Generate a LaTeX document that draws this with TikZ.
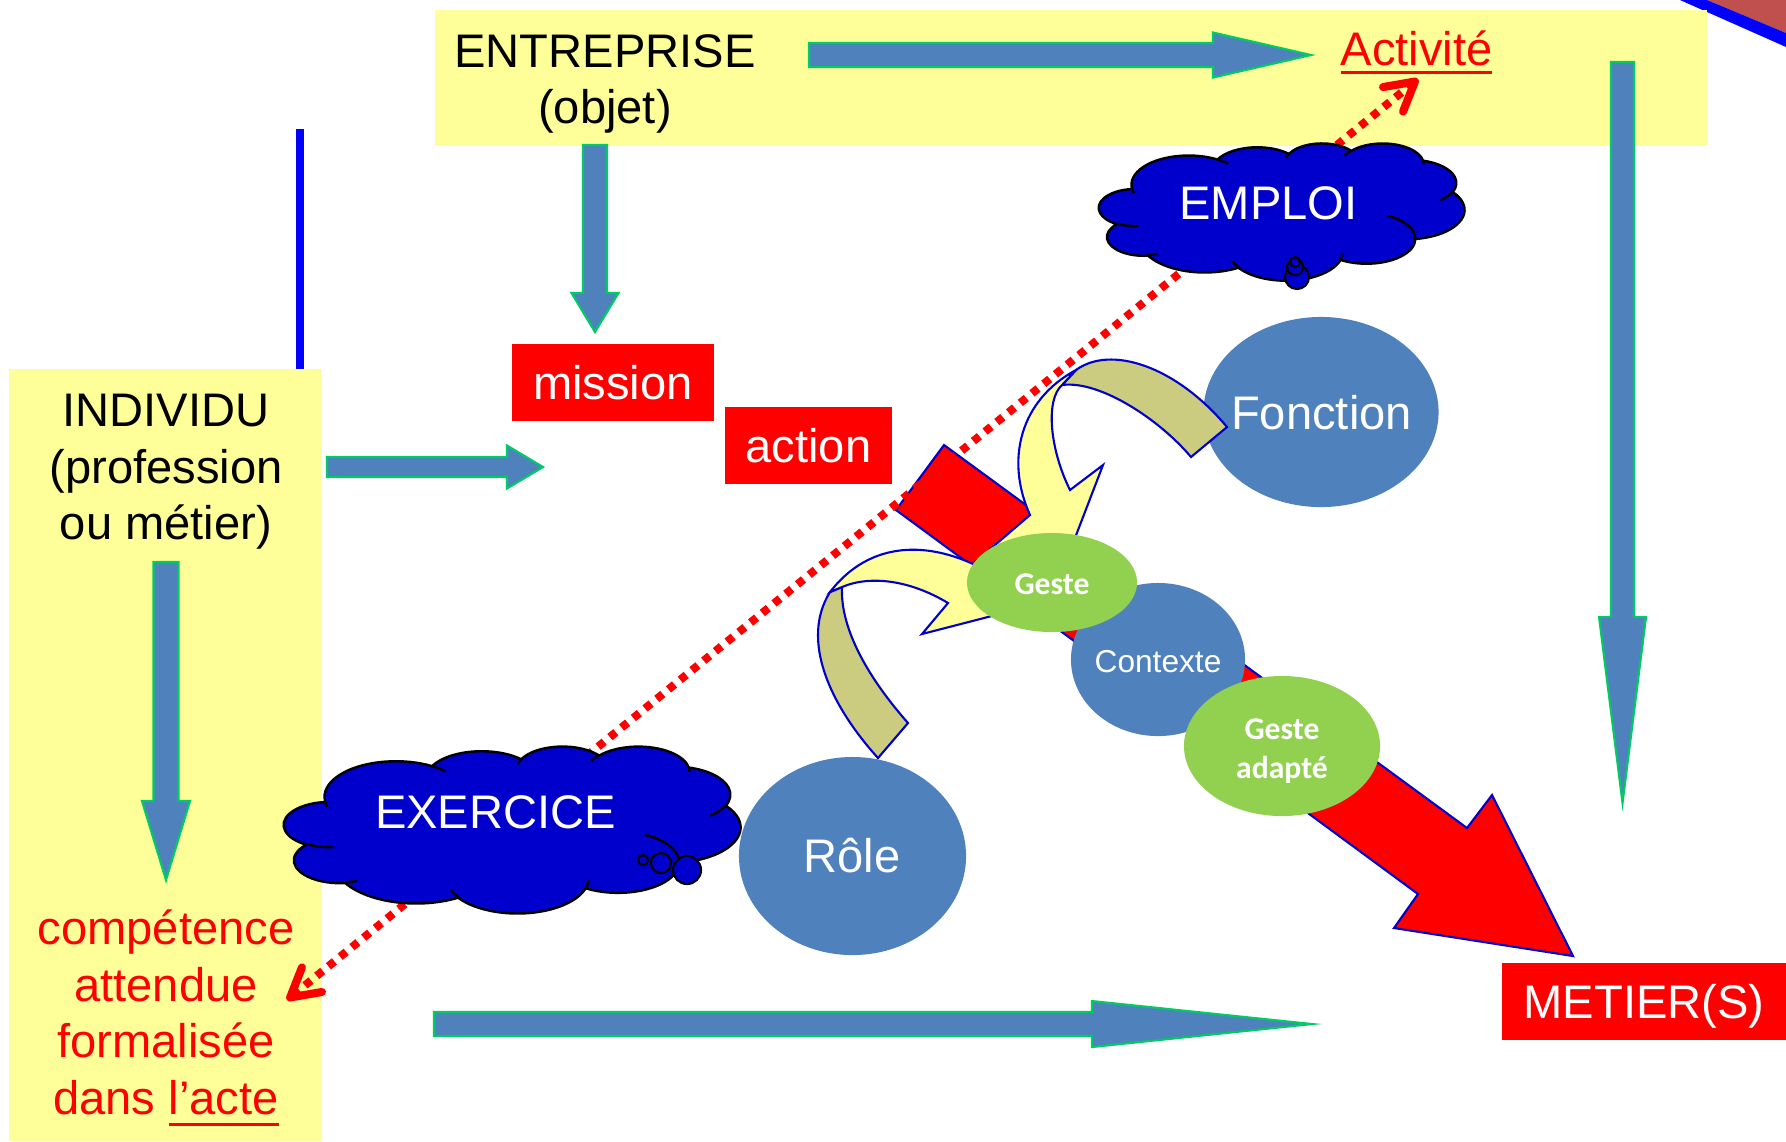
\documentclass[tikz,border=0pt]{standalone}
\usepackage{fontspec}
\setmainfont{Liberation Sans}
\newfontfamily\carl{Carlito}
\usetikzlibrary{shapes.geometric,calc,arrows.meta}
\definecolor{bandyellow}{HTML}{FFFF99}
\definecolor{arrblue}{HTML}{4F81BD}
\definecolor{arrgreen}{HTML}{00CC66}
\definecolor{cloudblue}{HTML}{0000CC}
\definecolor{ellgreen}{HTML}{92D050}
\definecolor{khaki}{HTML}{CCCC80}
\definecolor{outlblue}{HTML}{0000CC}
\definecolor{brownred}{HTML}{C0504D}
\newcommand{\myul}[2][2.6pt]{\setbox0\hbox{#2}\rlap{\rule[-#1]{\wd0}{0.9pt}}\box0}
\newcommand{\blockarrow}[5]{%
  \coordinate (ba-hb) at ($(#2)!#5!(#1)$);
  \filldraw[blockarr] ($(#1)!#3!90:(#2)$) -- ($(ba-hb)!#3!90:(#2)$) -- ($(ba-hb)!#4!90:(#2)$) -- (#2) -- ($(ba-hb)!#4!-90:(#2)$) -- ($(ba-hb)!#3!-90:(#2)$) -- ($(#1)!#3!-90:(#2)$) -- cycle;}
% OOXML arc (visual angles) -> parametric angles, y flipped
\newcommand\pptarc[5]{%
  \pgfmathsetmacro\tmpa{atan2((#2)*sin(#4),(#3)*cos(#4))}%
  \pgfmathsetmacro\tmpb{atan2((#2)*sin((#4)+(#5)),(#3)*cos((#4)+(#5)))}%
  \pgfmathsetmacro\tmpd{\tmpb-\tmpa}%
  \pgfmathsetmacro\tmpd{\tmpd+360*((#5)>0)*(\tmpd<0)-360*((#5)<0)*(\tmpd>0)}%
  \pgfmathsetmacro\tmpS{-1*(\tmpa)}%
  \pgfmathsetmacro\tmpD{-1*(\tmpd)}%
  \expandafter\xdef\csname cS#1\endcsname{\tmpS}%
  \expandafter\xdef\csname cD#1\endcsname{\tmpD}}
\newcommand\drawpptcloud[4]{%
\begin{scope}[shift={(#1,#2)}, x=#3, y=#4]
\filldraw[cloudfill] (39,-143.7)
 arc[x radius=67.53, y radius=91.90, start angle=\cSa, delta angle=\cDa]
 arc[x radius=53.33, y radius=72.67, start angle=\cSb, delta angle=\cDb]
 arc[x radius=43.65, y radius=59.45, start angle=\cSc, delta angle=\cDc]
 arc[x radius=48.57, y radius=65.95, start angle=\cSd, delta angle=\cDd]
 arc[x radius=53.33, y radius=72.73, start angle=\cSe, delta angle=\cDe]
 arc[x radius=67.75, y radius=92.20, start angle=\cSf, delta angle=\cDf]
 arc[x radius=57.85, y radius=78.67, start angle=\cSg, delta angle=\cDg]
 arc[x radius=67.52, y radius=92.15, start angle=\cSh, delta angle=\cDh]
 arc[x radius=77.20, y radius=105.43, start angle=\cSi, delta angle=\cDi]
 arc[x radius=43.60, y radius=59.18, start angle=\cSj, delta angle=\cDj]
 arc[x radius=43.45, y radius=59.45, start angle=\cSk, delta angle=\cDk]
 -- cycle;
\draw[cloudline]
 (46.93,-261.77) arc[x radius=43.45, y radius=59.45, start angle=\cSl, delta angle=\cDl]
 (69.28,-348.99) arc[x radius=43.60, y radius=59.18, start angle=\cSm, delta angle=\cDm]
 (164.78,-390.90) arc[x radius=67.52, y radius=92.15, start angle=\cSn, delta angle=\cDn]
 (288.27,-347.51) arc[x radius=67.52, y radius=92.15, start angle=\cSo, delta angle=\cDo]
 (341.29,-229.54) arc[x radius=57.85, y radius=78.67, start angle=\cSp, delta angle=\cDp]
 (417.98,-153.54) arc[x radius=53.33, y radius=72.73, start angle=\cSq, delta angle=\cDq]
 (383.24,-54.26) arc[x radius=48.57, y radius=65.95, start angle=\cSr, delta angle=\cDr]
 (290.78,-39.52) arc[x radius=48.57, y radius=65.95, start angle=\cSs, delta angle=\cDs]
 (221.41,-47.20) arc[x radius=43.65, y radius=59.45, start angle=\cSt, delta angle=\cDt]
 (140.00,-51.92) arc[x radius=67.53, y radius=91.90, start angle=\cSu, delta angle=\cDu]
 (41.27,-157.89) arc[x radius=67.53, y radius=91.90, start angle=\cSv, delta angle=\cDv];
\end{scope}}
\begin{document}
\begin{tikzpicture}[x=0.01cm,y=-0.01cm,
  bigtext/.style={font=\fontsize{13.4}{16.1}\selectfont, inner sep=0pt},
  smalltext/.style={font=\fontsize{9}{11.1}\selectfont, inner sep=0pt, text=white},
  gestefont/.style={font=\carl\bfseries\fontsize{9}{11.1}\selectfont},
  blockarr/.style={fill=arrblue, draw=arrgreen, line width=0.6pt},
  redbox/.style={rectangle, fill=red, text=white, inner sep=0pt, font=\fontsize{13.4}{16.1}\selectfont},
  ellnode/.style={ellipse, inner sep=0pt},
  cloudfill/.style={fill=cloudblue, draw=black, line width=0.7pt},
  cloudline/.style={draw=black, line width=0.7pt},
  bubble/.style={fill=cloudblue, draw=black, line width=0.6pt},
  curvedarr/.style={draw=outlblue, line width=0.6pt, line join=miter},
  dotarrow/.style={draw=red, line width=2.3pt, dash pattern=on 2.2pt off 2.1pt, arrows={Straight Barb[length=8pt,width=9pt,round]-Straight Barb[length=8pt,width=9pt,round]}}
]
\pptarc{a}{6753}{9190}{-190.4875}{123.7805}
\pptarc{b}{5333}{7267}{-144.1024}{89.9452}
\pptarc{c}{4365}{5945}{-145.8079}{99.7230}
\pptarc{d}{4857}{6595}{-130.9861}{117.2417}
\pptarc{e}{5333}{7273}{-78.7089}{109.0269}
\pptarc{f}{6775}{9220}{-46.2673}{130.2690}
\pptarc{g}{5785}{7867}{0.6250}{114.0333}
\pptarc{h}{6752}{9215}{22.4516}{115.1726}
\pptarc{i}{7720}{10543}{66.2426}{75.7110}
\pptarc{j}{4360}{5918}{-274.9421}{146.7356}
\pptarc{k}{4345}{5945}{-246.8285}{152.5189}
\pptarc{l}{4345}{5945}{86.7420}{26.4295}
\pptarc{m}{4360}{5918}{73.6105}{11.4475}
\pptarc{n}{6752}{9215}{137.6242}{14.0811}
\pptarc{o}{6752}{9215}{6.4533}{15.9984}
\pptarc{p}{5785}{7867}{-70.2924}{70.9174}
\pptarc{q}{5333}{7273}{30.3180}{27.7515}
\pptarc{r}{4857}{6595}{-13.7443}{14.8589}
\pptarc{s}{4857}{6595}{-149.1815}{18.1954}
\pptarc{t}{4365}{5945}{-163.4943}{17.6864}
\pptarc{u}{6753}{9190}{-66.7070}{12.3194}
\pptarc{v}{6753}{9190}{157.6544}{11.8582}
\useasboundingbox (0,0) rectangle (1786,1141);
\fill[white] (0,0) rectangle (1786,1141);
% top right corner decoration
\fill[brownred] (1707,0) -- (1786,0) -- (1786,33) -- cycle;
\fill[blue] (1680,0) -- (1707,0) -- (1786,33) -- (1786,47) -- cycle;
% blue vertical line
\draw[blue, line width=2pt] (300,129) -- (300,380);
% yellow bands
\fill[bandyellow] (435,10) rectangle (1707,146);
\fill[bandyellow] (9,369) rectangle (322,1141);
% block arrows
\coordinate (a1s) at (809,55);   \coordinate (a1t) at (1311,55);
\coordinate (a2s) at (595,145);  \coordinate (a2t) at (595,332);
\coordinate (a3s) at (1622.5,62); \coordinate (a3t) at (1622.5,803);
\coordinate (a4s) at (327,467);  \coordinate (a4t) at (543,467);
\coordinate (a5s) at (166,562);  \coordinate (a5t) at (166,880);
\coordinate (a6s) at (434,1024); \coordinate (a6t) at (1312,1024);
\blockarrow{a1s}{a1t}{0.12cm}{0.225cm}{0.98cm}
\blockarrow{a2s}{a2t}{0.12cm}{0.235cm}{0.39cm}
\blockarrow{a3s}{a3t}{0.115cm}{0.235cm}{1.86cm}
\blockarrow{a4s}{a4t}{0.10cm}{0.215cm}{0.36cm}
\blockarrow{a5s}{a5t}{0.125cm}{0.24cm}{0.79cm}
\blockarrow{a6s}{a6t}{0.12cm}{0.23cm}{2.2cm}
% red boxes
\node[redbox, minimum width=2.02cm, minimum height=0.77cm] (mission) at (613,382.5) {mission};
\node[redbox, minimum width=1.67cm, minimum height=0.77cm] (action) at (808.5,445.5) {action};
\node[redbox, minimum width=2.84cm, minimum height=0.77cm, text depth=0pt] (metier) at (1644,1001.5) {METIER(S)};
% blue ellipses
\node[ellnode, fill=arrblue, minimum width=2.35cm, minimum height=1.90cm] (fonction) at (1321,412) {};
\node[ellnode, fill=arrblue, minimum width=2.27cm, minimum height=1.98cm] (role) at (852.5,856) {};
% big red arrow
\filldraw[fill=red, draw=outlblue, line width=0.6pt] (944,445) -- (1467,828) -- (1492,795) -- (1573,956) -- (1394,928) -- (1418,894) -- (896,510) -- cycle;
% curved arrow from Fonction
\filldraw[curvedarr, fill=khaki] (1227,427) -- (1191,457) .. controls (1160,420) and (1100,380) .. (1062,385) -- (1076,370) .. controls (1110,345) and (1175,365) .. (1227,427) -- cycle;
\filldraw[curvedarr, fill=bandyellow] (1076,370) .. controls (1020,400) and (1005,460) .. (1030,515) -- (975,562) -- (1055,590) -- (1103,465) -- (1070,490) .. controls (1050,450) and (1045,400) .. (1062,385) -- cycle;
% curved arrow from Role
\filldraw[curvedarr, fill=khaki] (878,758) .. controls (830,705) and (800,640) .. (830,592) -- (842,587) .. controls (840,630) and (870,680) .. (908,723) -- cycle;
\filldraw[curvedarr, fill=bandyellow] (830,592) .. controls (870,540) and (930,540) .. (985,570) -- (1015,610) -- (922,634) -- (948,603) .. controls (910,580) and (870,575) .. (842,587) -- cycle;
% green and blue ellipses on the arrow
\node[ellnode, fill=arrblue, minimum width=1.74cm, minimum height=1.53cm] (contexte) at (1158,659.5) {};
\node[ellnode, fill=ellgreen, minimum width=1.70cm, minimum height=0.99cm] (geste) at (1052,582.5) {};
\node[ellnode, fill=ellgreen, minimum width=1.96cm, minimum height=1.40cm] (adapte) at (1282,746) {};
% dotted double arrow
\coordinate (dl1) at (287,1000);
\coordinate (dl2) at (1418,79);
\draw[dotarrow] (dl1) -- (dl2);
% clouds
\drawpptcloud{1099}{143}{0.008449cm}{0.003171cm}
\draw[bubble] (1297,277) circle[radius=0.12cm];
\draw[bubble] (1295,267) circle[radius=0.08cm];
\draw[bubble] (1295,262) circle[radius=0.05cm];
\drawpptcloud{284}{746}{0.010556cm}{0.003866cm}
\draw[bubble] (643,860) circle[radius=0.05cm];
\draw[bubble] (661,863) circle[radius=0.10cm];
\draw[bubble] (687,870) circle[radius=0.14cm];
% texts
\node[bigtext, anchor=base, text=red] (activite) at (1416.5,65) {\myul{Activité}};
\node[bigtext, align=center] (entreprise) at (605,84) {ENTREPRISE\\(objet)};
\node[bigtext, align=center] (individu) at (166,472) {INDIVIDU\\(profession\\ou métier)};
\node[bigtext, align=center, text=red] (competence) at (166,1018) {compétence\\attendue\\formalisée\\dans \myul[3.4pt]{l’acte}};
\node[bigtext, anchor=base, text=white] (fonctiont) at (1321.5,429) {Fonction};
\node[bigtext, anchor=base, text=white] (rolet) at (852,872) {Rôle};
\node[smalltext, anchor=base] (contextet) at (1158,672) {Contexte};
\node[smalltext, gestefont, anchor=base] (gestet) at (1052,594) {Geste};
\node[smalltext, gestefont, align=center] (adaptet) at (1282,751) {Geste\\adapté};
\node[bigtext, anchor=base, text=white] (emploit) at (1268.5,219) {EMPLOI};
\node[bigtext, anchor=base, text=white] (exercicet) at (495.5,828) {EXERCICE};
\end{tikzpicture}
\end{document}
